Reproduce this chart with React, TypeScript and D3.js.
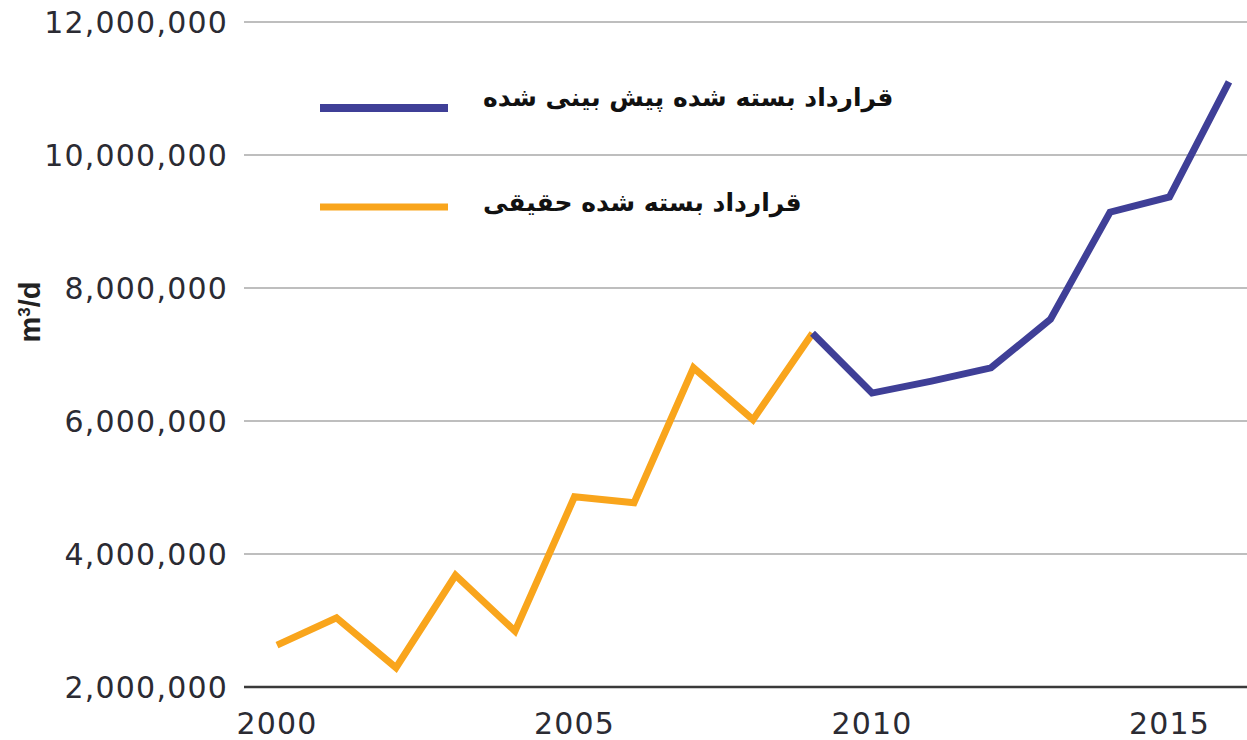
import React from "react";
import * as d3 from "d3";

const actualYears = [2000, 2001, 2002, 2003, 2004, 2005, 2006, 2007, 2008, 2009];
const actualValues = [2630000, 3040000, 2290000, 3680000, 2840000, 4860000, 4770000, 6800000, 6020000, 7320000];
const forecastYears = [2009, 2010, 2011, 2012, 2013, 2014, 2015, 2016];
const forecastValues = [7320000, 6420000, 6600000, 6800000, 7530000, 9140000, 9370000, 11100000];
const yTicks = [2000000, 4000000, 6000000, 8000000, 10000000, 12000000];
const xTicks = [2000, 2005, 2010, 2015];
const legendLabels = ["قرارداد بسته شده پیش بینی شده", "قرارداد بسته شده حقیقی"];

const W = 1247;
const H = 740;
const BLUE = "#3f3f97";
const ORANGE = "#f9a51c";

export default function App() {
  const x = d3.scaleLinear().domain([2000, 2016]).range([277, 1229]);
  const y = d3.scaleLinear().domain([2000000, 12000000]).range([687, 22]);
  const line = d3
    .line<[number, number]>()
    .x((d) => x(d[0]))
    .y((d) => y(d[1]));
  const actual = actualYears.map((yr, i) => [yr, actualValues[i]] as [number, number]);
  const forecast = forecastYears.map((yr, i) => [yr, forecastValues[i]] as [number, number]);
  const fmt = d3.format(",");
  const numFont = { fontFamily: "DejaVu Sans", fontSize: 30, letterSpacing: 1.2, fill: "#2b2b33" };

  return (
    <svg width={W} height={H} style={{ position: "absolute", left: 0, top: 0, background: "#fff" }}>
      {yTicks.map((t) => (
        <g key={t}>
          {t !== 2000000 && (
            <line x1={244} x2={W} y1={y(t)} y2={y(t)} stroke="#a9a9a9" strokeWidth={1.5} />
          )}
          <text x={228} y={y(t)} dy="0.36em" textAnchor="end" {...numFont}>
            {fmt(t)}
          </text>
        </g>
      ))}
      <line x1={244} x2={W} y1={y(2000000)} y2={y(2000000)} stroke="#3a3a3a" strokeWidth={2.5} />
      {xTicks.map((t) => (
        <text key={t} x={x(t)} y={734} textAnchor="middle" {...numFont}>
          {t}
        </text>
      ))}
      <text
        transform={`translate(40,312) rotate(-90)`}
        textAnchor="middle"
        fontFamily="Liberation Sans"
        fontWeight="bold"
        fontSize={29}
        fill="#222"
      >
        m<tspan dy={-10} fontSize={17}>3</tspan>
        <tspan dy={10}>/d</tspan>
      </text>
      <path d={line(actual) || ""} fill="none" stroke={ORANGE} strokeWidth={7} />
      <path d={line(forecast) || ""} fill="none" stroke={BLUE} strokeWidth={7} />
      <line x1={320} x2={448} y1={108} y2={108} stroke={BLUE} strokeWidth={8} />
      <line x1={320} x2={448} y1={207} y2={207} stroke={ORANGE} strokeWidth={7} />
      <text x={483} y={106} fontFamily="DejaVu Sans" fontWeight="bold" fontSize={25} fill="#111">
        {legendLabels[0]}
      </text>
      <text x={483} y={211} fontFamily="DejaVu Sans" fontWeight="bold" fontSize={25} fill="#111">
        {legendLabels[1]}
      </text>
    </svg>
  );
}
